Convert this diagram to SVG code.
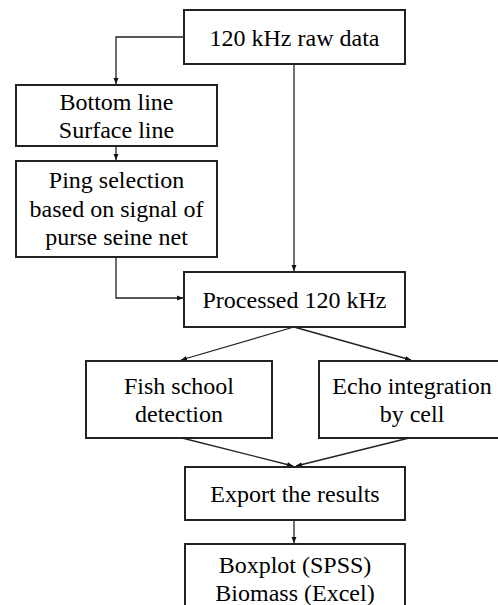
<svg xmlns="http://www.w3.org/2000/svg" width="498" height="605" viewBox="0 0 498 605">
  <style>
    .box { fill: #ffffff; stroke: #222222; stroke-width: 2; }
    .lbl { font-family: "Liberation Serif", "Times New Roman", serif; font-size: 24px; fill: #000000; text-anchor: middle; }
    .edge { fill: none; stroke: #222222; stroke-width: 1.3; }
  </style>
  <defs>
    <marker id="arr" markerWidth="8" markerHeight="8" refX="6" refY="4" orient="auto" markerUnits="userSpaceOnUse">
      <path d="M0,1.5 L6,4 L0,6.5 Z" fill="#111111"/>
    </marker>
  </defs>
  <rect width="498" height="605" fill="#ffffff"/>

  <g id="connectors">
    <path class="edge" d="M184,37 H116 V84" marker-end="url(#arr)"/>
    <path class="edge" d="M116,146 V160" marker-end="url(#arr)"/>
    <path class="edge" d="M294,64 V271" marker-end="url(#arr)"/>
    <path class="edge" d="M116,257 V298 H183" marker-end="url(#arr)"/>
    <path class="edge" d="M294,327 L181,360" marker-end="url(#arr)"/>
    <path class="edge" d="M294,327 L411,360" marker-end="url(#arr)"/>
    <path class="edge" d="M182,438 L293,466" marker-end="url(#arr)"/>
    <path class="edge" d="M409,438 L296,466" marker-end="url(#arr)"/>
    <path class="edge" d="M294,520 V543" marker-end="url(#arr)"/>
  </g>

  <g id="raw">
    <rect class="box" x="184" y="10" width="221" height="54"/>
    <text class="lbl" x="294.5" y="46">120 kHz raw data</text>
  </g>
  <g id="lines">
    <rect class="box" x="16" y="85" width="201" height="61"/>
    <text class="lbl" x="116.5" y="110">Bottom line</text>
    <text class="lbl" x="116.5" y="138">Surface line</text>
  </g>
  <g id="ping">
    <rect class="box" x="16" y="161" width="201" height="96"/>
    <text class="lbl" x="116.5" y="188">Ping selection</text>
    <text class="lbl" x="116.5" y="216.5">based on signal of</text>
    <text class="lbl" x="116.5" y="245">purse seine net</text>
  </g>
  <g id="processed">
    <rect class="box" x="184" y="272" width="221" height="55"/>
    <text class="lbl" x="294.5" y="308">Processed 120 kHz</text>
  </g>
  <g id="school">
    <rect class="box" x="86" y="361" width="186" height="77"/>
    <text class="lbl" x="179" y="393.5">Fish school</text>
    <text class="lbl" x="179" y="422">detection</text>
  </g>
  <g id="integration">
    <rect class="box" x="319" y="361" width="184" height="77"/>
    <text class="lbl" x="412" y="393.5">Echo integration</text>
    <text class="lbl" x="412" y="422">by cell</text>
  </g>
  <g id="export">
    <rect class="box" x="185" y="467" width="220" height="53"/>
    <text class="lbl" x="295" y="502">Export the results</text>
  </g>
  <g id="outputs">
    <rect class="box" x="185" y="544" width="220" height="70"/>
    <text class="lbl" x="295" y="573">Boxplot (SPSS)</text>
    <text class="lbl" x="295" y="601">Biomass (Excel)</text>
  </g>
</svg>
